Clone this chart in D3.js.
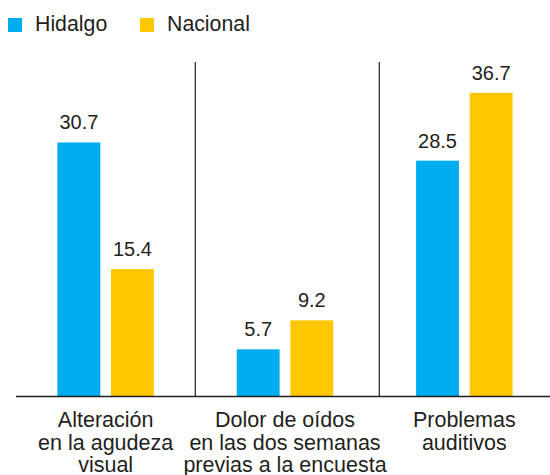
<!DOCTYPE html>
<html>
<head>
<meta charset="utf-8">
<script src="https://cdn.jsdelivr.net/npm/d3@7"></script>
<style>
  body { margin: 0; background: #fff; }
  svg { display: block; font-family: "Liberation Sans", Arial, sans-serif; }
</style>
</head>
<body>
<svg id="chart" width="550" height="475"></svg>
<script>
// data
var categories = ["alteracion", "dolor", "problemas"];
var categoryLabels = [
  ["Alteración", "en la agudeza", "visual"],
  ["Dolor de oídos", "en las dos semanas", "previas a la encuesta"],
  ["Problemas", "auditivos"]
];
var series = ["Hidalgo", "Nacional"];
var hidalgo = [30.7, 5.7, 28.5];
var nacional = [15.4, 9.2, 36.7];

var colors = { Hidalgo: "#00aeef", Nacional: "#ffc800" };
var ink = "#231f20";

var svg = d3.select("#chart");

var baseY = 396.5;

var x0 = d3.scaleBand()
  .domain(categories)
  .range([16, 554])
  .paddingInner(0.462)
  .paddingOuter(0.231);

var x1 = d3.scaleBand()
  .domain(series)
  .range([0, x0.bandwidth()])
  .paddingInner(0.2);

var y = d3.scaleLinear()
  .domain([0, 40])
  .range([baseY, 65.5]);

var rows = categories.map(function(c, i){
  return { cat: c, values: [
    { key: "Hidalgo", value: hidalgo[i] },
    { key: "Nacional", value: nacional[i] }
  ]};
});

// separators between groups
var sepX = [195.3, 379.3];
svg.selectAll("line.sep").data(sepX).enter().append("line")
  .attr("class", "sep")
  .attr("x1", function(d){ return d; })
  .attr("x2", function(d){ return d; })
  .attr("y1", 62)
  .attr("y2", baseY)
  .attr("stroke", ink)
  .attr("stroke-width", 1.2);

var groups = svg.selectAll("g.group").data(rows).enter().append("g")
  .attr("class", "group")
  .attr("transform", function(d){ return "translate(" + x0(d.cat) + ",0)"; });

groups.selectAll("rect").data(function(d){ return d.values; }).enter().append("rect")
  .attr("x", function(d){ return x1(d.key); })
  .attr("y", function(d){ return y(d.value); })
  .attr("width", x1.bandwidth())
  .attr("height", function(d){ return baseY - y(d.value); })
  .attr("fill", function(d){ return colors[d.key]; });

groups.selectAll("text.val").data(function(d){ return d.values; }).enter().append("text")
  .attr("class", "val")
  .attr("x", function(d){ return x1(d.key) + x1.bandwidth() / 2; })
  .attr("y", function(d){ return y(d.value) - 13; })
  .attr("text-anchor", "middle")
  .attr("font-size", 20)
  .attr("fill", ink)
  .text(function(d){ return d.value.toFixed(1); });

// baseline
svg.append("line")
  .attr("x1", 16).attr("x2", 550)
  .attr("y1", baseY).attr("y2", baseY)
  .attr("stroke", ink)
  .attr("stroke-width", 1.4);

// category labels
categories.forEach(function(c, i){
  var t = svg.append("text")
    .attr("text-anchor", "middle")
    .attr("font-size", 21.5)
    .attr("fill", ink);
  categoryLabels[i].forEach(function(line, j){
    t.append("tspan")
      .attr("x", x0(c) + x0.bandwidth() / 2)
      .attr("y", 427.3 + j * 22.2)
      .text(line);
  });
});

// legend
var legendX = [8, 140];
var legend = svg.selectAll("g.legend").data(series).enter().append("g")
  .attr("class", "legend")
  .attr("transform", function(d, i){ return "translate(" + legendX[i] + ",18)"; });
legend.append("rect")
  .attr("width", 14).attr("height", 14)
  .attr("fill", function(d){ return colors[d]; });
legend.append("text")
  .attr("x", 27).attr("y", 13)
  .attr("font-size", 21.3)
  .attr("fill", ink)
  .text(function(d){ return d; });
</script>
</body>
</html>
